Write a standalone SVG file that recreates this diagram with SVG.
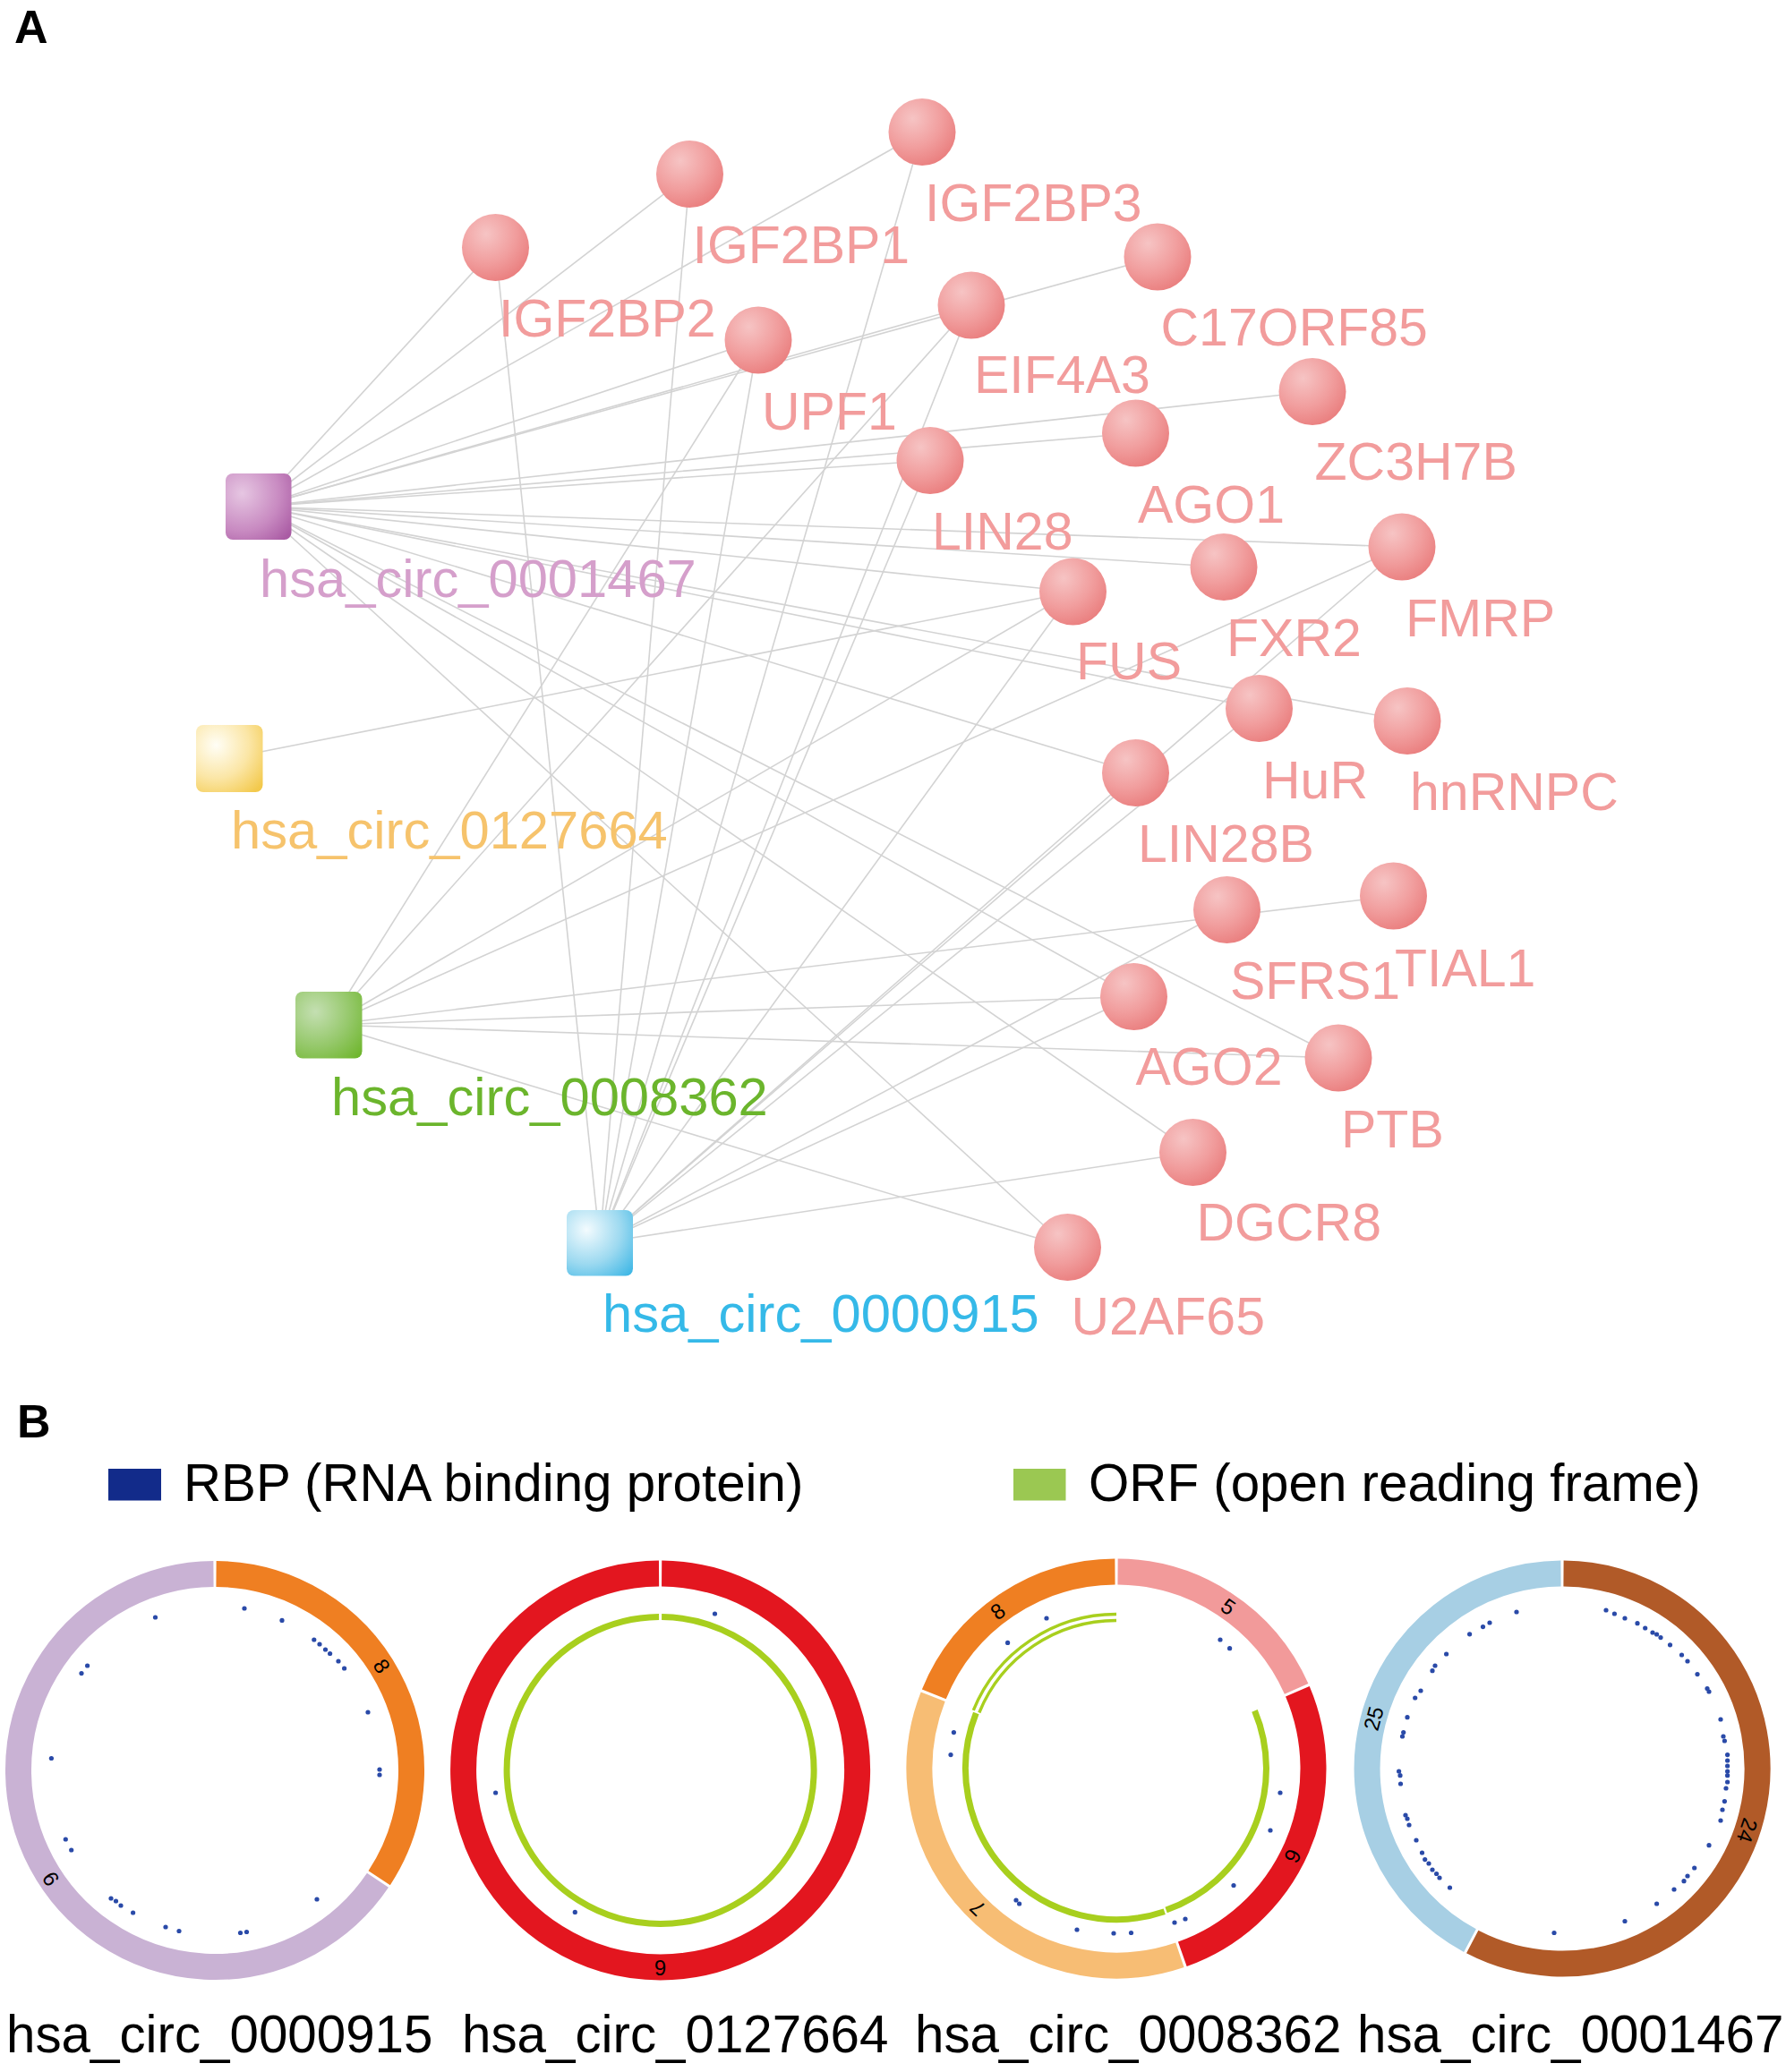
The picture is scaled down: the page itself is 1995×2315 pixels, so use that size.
<svg xmlns="http://www.w3.org/2000/svg" width="1995" height="2315" viewBox="0 0 1995 2315">
<defs>
<radialGradient id="gPink" cx="0.36" cy="0.3" r="0.78">
<stop offset="0" stop-color="#f6c4c4"/><stop offset="0.55" stop-color="#f19e9e"/><stop offset="1" stop-color="#e97b7b"/>
</radialGradient>
<radialGradient id="gPur" cx="0.25" cy="0.3" r="0.95">
<stop offset="0" stop-color="#e6c6e2"/><stop offset="0.6" stop-color="#c88ac1"/><stop offset="1" stop-color="#a95aa3"/>
</radialGradient>
<radialGradient id="gYel" cx="0.3" cy="0.3" r="0.9">
<stop offset="0" stop-color="#fffef6"/><stop offset="0.55" stop-color="#fbe6a6"/><stop offset="1" stop-color="#f3c94c"/>
</radialGradient>
<radialGradient id="gGrn" cx="0.3" cy="0.3" r="0.95">
<stop offset="0" stop-color="#c4dfb2"/><stop offset="0.55" stop-color="#95c86a"/><stop offset="1" stop-color="#6db52a"/>
</radialGradient>
<radialGradient id="gBlu" cx="0.3" cy="0.3" r="0.95">
<stop offset="0" stop-color="#f3fbfe"/><stop offset="0.55" stop-color="#9cd9f0"/><stop offset="1" stop-color="#3cb6e5"/>
</radialGradient>
</defs>
<style>
.edge{stroke:#d3d3d3;stroke-width:1.6;fill:none}
.rbp{fill:url(#gPink)}
.t{font-family:"Liberation Sans",Arial,Helvetica,sans-serif}
.nl{font-size:59px}
.cn{font-size:59.7px}
.pk{fill:#f29c9c}
.hd{font-size:52px;font-weight:bold;fill:#000}
.lg{font-size:58.3px;fill:#000}
.cl{font-size:58.3px;fill:#000}
.seg{fill:none;stroke-width:29}
.num{font-size:24px;fill:#000;text-anchor:middle;dominant-baseline:central}
.dot{fill:#2a4aa8}
.orf{fill:none;stroke:#a8cf1e}
</style>
<rect width="1995" height="2315" fill="#fff"/>

<text class="t hd" x="16" y="48">A</text>

<g id="edges">
<line class="edge" x1="288.5" y1="566" x2="553.5" y2="276.5"/>
<line class="edge" x1="288.5" y1="566" x2="770.5" y2="194.5"/>
<line class="edge" x1="288.5" y1="566" x2="1030" y2="147.5"/>
<line class="edge" x1="288.5" y1="566" x2="847" y2="380"/>
<line class="edge" x1="288.5" y1="566" x2="1085" y2="341"/>
<line class="edge" x1="288.5" y1="566" x2="1293" y2="287"/>
<line class="edge" x1="288.5" y1="566" x2="1466" y2="437.5"/>
<line class="edge" x1="288.5" y1="566" x2="1268.5" y2="484"/>
<line class="edge" x1="288.5" y1="566" x2="1039" y2="514.5"/>
<line class="edge" x1="288.5" y1="566" x2="1566" y2="611"/>
<line class="edge" x1="288.5" y1="566" x2="1367" y2="633.5"/>
<line class="edge" x1="288.5" y1="566" x2="1198.5" y2="661"/>
<line class="edge" x1="288.5" y1="566" x2="1406.5" y2="791.5"/>
<line class="edge" x1="288.5" y1="566" x2="1572" y2="805.5"/>
<line class="edge" x1="288.5" y1="566" x2="1268.5" y2="863.5"/>
<line class="edge" x1="288.5" y1="566" x2="1495" y2="1182"/>
<line class="edge" x1="288.5" y1="566" x2="1266.5" y2="1113.5"/>
<line class="edge" x1="288.5" y1="566" x2="1332.5" y2="1287.5"/>
<line class="edge" x1="288.5" y1="566" x2="1192.5" y2="1393.5"/>
<line class="edge" x1="256" y1="847" x2="1198.5" y2="661"/>
<line class="edge" x1="367" y1="1145" x2="847" y2="380"/>
<line class="edge" x1="367" y1="1145" x2="1085" y2="341"/>
<line class="edge" x1="367" y1="1145" x2="1198.5" y2="661"/>
<line class="edge" x1="367" y1="1145" x2="1566" y2="611"/>
<line class="edge" x1="367" y1="1145" x2="1556.5" y2="1001"/>
<line class="edge" x1="367" y1="1145" x2="1266.5" y2="1113.5"/>
<line class="edge" x1="367" y1="1145" x2="1495" y2="1182"/>
<line class="edge" x1="367" y1="1145" x2="1192.5" y2="1393.5"/>
<line class="edge" x1="670" y1="1388.5" x2="553.5" y2="276.5"/>
<line class="edge" x1="670" y1="1388.5" x2="770.5" y2="194.5"/>
<line class="edge" x1="670" y1="1388.5" x2="1030" y2="147.5"/>
<line class="edge" x1="670" y1="1388.5" x2="847" y2="380"/>
<line class="edge" x1="670" y1="1388.5" x2="1085" y2="341"/>
<line class="edge" x1="670" y1="1388.5" x2="1039" y2="514.5"/>
<line class="edge" x1="670" y1="1388.5" x2="1198.5" y2="661"/>
<line class="edge" x1="670" y1="1388.5" x2="1268.5" y2="863.5"/>
<line class="edge" x1="670" y1="1388.5" x2="1566" y2="611"/>
<line class="edge" x1="670" y1="1388.5" x2="1406.5" y2="791.5"/>
<line class="edge" x1="670" y1="1388.5" x2="1370.5" y2="1016.5"/>
<line class="edge" x1="670" y1="1388.5" x2="1266.5" y2="1113.5"/>
<line class="edge" x1="670" y1="1388.5" x2="1332.5" y2="1287.5"/>
</g>

<g id="n_IGF2BP3"><circle class="rbp" cx="1030" cy="147.5" r="37.5"/><text class="t nl pk" x="1033" y="247">IGF2BP3</text></g>
<g id="n_IGF2BP1"><circle class="rbp" cx="770.5" cy="194.5" r="37.5"/><text class="t nl pk" x="773.5" y="294">IGF2BP1</text></g>
<g id="n_IGF2BP2"><circle class="rbp" cx="553.5" cy="276.5" r="37.5"/><text class="t nl pk" x="557" y="375.5">IGF2BP2</text></g>
<g id="n_C17ORF85"><circle class="rbp" cx="1293" cy="287" r="37.5"/><text class="t nl pk" x="1296.5" y="386">C17ORF85</text></g>
<g id="n_EIF4A3"><circle class="rbp" cx="1085" cy="341" r="37.5"/><text class="t nl pk" x="1088" y="439">EIF4A3</text></g>
<g id="n_UPF1"><circle class="rbp" cx="847" cy="380" r="37.5"/><text class="t nl pk" x="851" y="480">UPF1</text></g>
<g id="n_ZC3H7B"><circle class="rbp" cx="1466" cy="437.5" r="37.5"/><text class="t nl pk" x="1468.5" y="536">ZC3H7B</text></g>
<g id="n_AGO1"><circle class="rbp" cx="1268.5" cy="484" r="37.5"/><text class="t nl pk" x="1271" y="584">AGO1</text></g>
<g id="n_LIN28"><circle class="rbp" cx="1039" cy="514.5" r="37.5"/><text class="t nl pk" x="1041" y="614">LIN28</text></g>
<g id="n_FMRP"><circle class="rbp" cx="1566" cy="611" r="37.5"/><text class="t nl pk" x="1570" y="711">FMRP</text></g>
<g id="n_FXR2"><circle class="rbp" cx="1367" cy="633.5" r="37.5"/><text class="t nl pk" x="1370" y="732.5">FXR2</text></g>
<g id="n_FUS"><circle class="rbp" cx="1198.5" cy="661" r="37.5"/><text class="t nl pk" x="1202" y="759">FUS</text></g>
<g id="n_HuR"><circle class="rbp" cx="1406.5" cy="791.5" r="37.5"/><text class="t nl pk" x="1410" y="892">HuR</text></g>
<g id="n_hnRNPC"><circle class="rbp" cx="1572" cy="805.5" r="37.5"/><text class="t nl pk" x="1575" y="905">hnRNPC</text></g>
<g id="n_LIN28B"><circle class="rbp" cx="1268.5" cy="863.5" r="37.5"/><text class="t nl pk" x="1271" y="963">LIN28B</text></g>
<g id="n_SFRS1"><circle class="rbp" cx="1370.5" cy="1016.5" r="37.5"/><text class="t nl pk" x="1374" y="1116">SFRS1</text></g>
<g id="n_TIAL1"><circle class="rbp" cx="1556.5" cy="1001" r="37.5"/><text class="t nl pk" x="1558" y="1101.5">TIAL1</text></g>
<g id="n_AGO2"><circle class="rbp" cx="1266.5" cy="1113.5" r="37.5"/><text class="t nl pk" x="1268.5" y="1212">AGO2</text></g>
<g id="n_PTB"><circle class="rbp" cx="1495" cy="1182" r="37.5"/><text class="t nl pk" x="1498" y="1282">PTB</text></g>
<g id="n_DGCR8"><circle class="rbp" cx="1332.5" cy="1287.5" r="37.5"/><text class="t nl pk" x="1336.5" y="1386">DGCR8</text></g>
<g id="n_U2AF65"><circle class="rbp" cx="1192.5" cy="1393.5" r="37.5"/><text class="t nl pk" x="1196.5" y="1491">U2AF65</text></g>

<g id="n_hsa_circ_0001467"><rect x="252" y="529" width="73.5" height="74" rx="8" fill="url(#gPur)"/><text class="t cn" x="290" y="666.5" fill="#d59fcb">hsa_circ_0001467</text></g>
<g id="n_hsa_circ_0127664"><rect x="219" y="810" width="74.5" height="75" rx="8" fill="url(#gYel)"/><text class="t cn" x="258" y="947.5" fill="#f6c36c">hsa_circ_0127664</text></g>
<g id="n_hsa_circ_0008362"><rect x="330" y="1108" width="74.5" height="74.5" rx="8" fill="url(#gGrn)"/><text class="t cn" x="370" y="1246" fill="#6bb52c">hsa_circ_0008362</text></g>
<g id="n_hsa_circ_0000915"><rect x="633" y="1352" width="74" height="73.5" rx="8" fill="url(#gBlu)"/><text class="t cn" x="673" y="1488" fill="#35b9e8">hsa_circ_0000915</text></g>

<text class="t hd" x="19" y="1606">B</text>
<g id="legend">
<rect x="121" y="1641" width="59" height="35.5" fill="#122b8a"/>
<text class="t lg" x="205" y="1677">RBP (RNA binding protein)</text>
<rect x="1132" y="1641" width="58.5" height="35.5" fill="#9bc852"/>
<text class="t lg" x="1216" y="1677">ORF (open reading frame)</text>
</g>

<g id="circ_0000915">
<path class="seg" stroke="#ef7f22" d="M241.53,1758.51 A219.5,219.5 0 0 1 423.68,2098.2"/>
<path class="seg" stroke="#c9b2d4" d="M421.97,2100.74 A219.5,219.5 0 1 1 238.47,1758.51"/>
<text class="t num" x="426.6" y="1861.4" transform="rotate(58 426.6 1861.4)">8</text>
<text class="t num" x="56.5" y="2099.4" transform="rotate(236.5 56.5 2099.4)">9</text>
<g class="dot">
<circle cx="273" cy="1797" r="2.6"/><circle cx="173.5" cy="1807" r="2.6"/><circle cx="315" cy="1810.4" r="2.6"/><circle cx="350.8" cy="1832" r="2.6"/><circle cx="357" cy="1837" r="2.6"/><circle cx="363.5" cy="1843" r="2.6"/><circle cx="368.6" cy="1847.5" r="2.6"/><circle cx="378" cy="1856" r="2.6"/><circle cx="384.6" cy="1864" r="2.6"/><circle cx="97.6" cy="1861" r="2.6"/><circle cx="91" cy="1869.6" r="2.6"/><circle cx="411" cy="1913" r="2.6"/><circle cx="57.4" cy="1964.5" r="2.6"/><circle cx="424" cy="1977" r="2.6"/><circle cx="424" cy="1983" r="2.6"/><circle cx="73.3" cy="2055" r="2.6"/><circle cx="79.7" cy="2067" r="2.6"/><circle cx="354" cy="2122" r="2.6"/><circle cx="124" cy="2121" r="2.6"/><circle cx="129.5" cy="2124" r="2.6"/><circle cx="135" cy="2129" r="2.6"/><circle cx="148.6" cy="2137" r="2.6"/><circle cx="185" cy="2153" r="2.6"/><circle cx="200" cy="2157.5" r="2.6"/><circle cx="268.5" cy="2159.5" r="2.6"/><circle cx="275.5" cy="2158.5" r="2.6"/>
</g>
<text class="t cl" x="7" y="2293">hsa_circ_0000915</text>
</g>

<g id="circ_0127664">
<path class="seg" stroke="#e3161f" d="M739.14,1758 A220,220 0 1 1 736.06,1758"/>
<path class="orf" stroke-width="7" d="M739.1,1806.5 A171.5,171.5 0 1 1 736.1,1806.5"/>
<text class="t num" x="737.6" y="2198" transform="rotate(180 737.6 2198)">6</text>
<g class="dot">
<circle cx="798.5" cy="1803" r="2.6"/><circle cx="553.6" cy="2003" r="2.6"/><circle cx="642.3" cy="2136.4" r="2.6"/>
</g>
<text class="t cl" x="516" y="2293">hsa_circ_0127664</text>
</g>

<g id="circ_0008362">
<path class="seg" stroke="#f29a9a" d="M1248.54,1756 A220,220 0 0 1 1448.15,1886.88"/>
<path class="seg" stroke="#e3161f" d="M1449.36,1889.69 A220,220 0 0 1 1320.81,2183.26"/>
<path class="seg" stroke="#f7bd74" d="M1317.91,2184.25 A220,220 0 0 1 1042.16,1895.72"/>
<path class="seg" stroke="#ef7f22" d="M1043.3,1892.88 A220,220 0 0 1 1245.46,1756"/>
<path class="orf" stroke-width="7" d="M1401.5,1911.4 A167.5,167.5 0 0 1 1302.6,2134"/>
<path class="orf" stroke-width="7" d="M1300.75,2135.7 A168.5,168.5 0 0 1 1090.3,1914"/>
<path class="orf" stroke-width="3.4" d="M1093.8,1913.5 A165.5,165.5 0 0 1 1247,1810.5"/>
<path class="orf" stroke-width="3.4" d="M1087.3,1910.8 A172.5,172.5 0 0 1 1247,1803.5"/>
<text class="t num" x="1372.2" y="1795.1" transform="rotate(34.7 1372.2 1795.1)">5</text>
<text class="t num" x="1444.1" y="2073.8" transform="rotate(116.4 1444.1 2073.8)">6</text>
<text class="t num" x="1092" y="2132.1" transform="rotate(224.8 1092 2132.1)">7</text>
<text class="t num" x="1114.6" y="1800.3" transform="rotate(323 1114.6 1800.3)">8</text>
<g class="dot">
<circle cx="1169" cy="1808" r="2.6"/><circle cx="1125.6" cy="1835.4" r="2.6"/><circle cx="1363" cy="1832" r="2.6"/><circle cx="1373.6" cy="1841.7" r="2.6"/><circle cx="1065.4" cy="1935.6" r="2.6"/><circle cx="1062" cy="1960.6" r="2.6"/><circle cx="1430" cy="2003" r="2.6"/><circle cx="1419" cy="2045" r="2.6"/><circle cx="1378" cy="2106.5" r="2.6"/><circle cx="1135" cy="2123" r="2.6"/><circle cx="1138.6" cy="2127" r="2.6"/><circle cx="1324" cy="2144" r="2.6"/><circle cx="1312" cy="2148" r="2.6"/><circle cx="1203" cy="2156" r="2.6"/><circle cx="1244" cy="2160" r="2.6"/><circle cx="1263.5" cy="2159.5" r="2.6"/>
</g>
<text class="t cl" x="1022" y="2293">hsa_circ_0008362</text>
</g>

<g id="circ_0001467">
<path class="seg" stroke="#b15a28" stroke-width="30" d="M1746.52,1758 A218,218 0 1 1 1644.7,2169.5"/>
<path class="seg" stroke="#a7cfe4" stroke-width="30" d="M1642,2168.1 A218,218 0 0 1 1743.48,1758"/>
<text class="t num" x="1951.7" y="2045.2" transform="rotate(108.5 1951.7 2045.2)">24</text>
<text class="t num" x="1534.3" y="1920" transform="rotate(284.9 1534.3 1920)">25</text>
<g class="dot">
<circle cx="1694" cy="1801" r="2.6"/><circle cx="1664" cy="1813" r="2.6"/><circle cx="1656.5" cy="1817.6" r="2.6"/><circle cx="1641.6" cy="1825.8" r="2.6"/><circle cx="1615.6" cy="1848" r="2.6"/><circle cx="1603" cy="1861" r="2.6"/><circle cx="1600" cy="1866.7" r="2.6"/><circle cx="1587" cy="1889" r="2.6"/><circle cx="1580.7" cy="1897" r="2.6"/><circle cx="1572" cy="1918.7" r="2.6"/><circle cx="1567.7" cy="1935.6" r="2.6"/><circle cx="1566.5" cy="1940" r="2.6"/><circle cx="1562.6" cy="1979" r="2.6"/><circle cx="1564" cy="1983.7" r="2.6"/><circle cx="1564.5" cy="1993" r="2.6"/><circle cx="1570" cy="2028" r="2.6"/><circle cx="1572" cy="2032" r="2.6"/><circle cx="1574" cy="2039" r="2.6"/><circle cx="1582" cy="2056" r="2.6"/><circle cx="1588.5" cy="2070" r="2.6"/><circle cx="1591.7" cy="2077.6" r="2.6"/><circle cx="1596" cy="2082" r="2.6"/><circle cx="1600" cy="2089" r="2.6"/><circle cx="1604.6" cy="2093.5" r="2.6"/><circle cx="1608" cy="2098" r="2.6"/><circle cx="1619.5" cy="2109" r="2.6"/><circle cx="1736" cy="2159.5" r="2.6"/><circle cx="1815" cy="2146.5" r="2.6"/><circle cx="1850.6" cy="2127" r="2.6"/><circle cx="1870" cy="2111" r="2.6"/><circle cx="1881" cy="2101.7" r="2.6"/><circle cx="1885" cy="2096" r="2.6"/><circle cx="1892.7" cy="2087" r="2.6"/><circle cx="1909" cy="2061.7" r="2.6"/><circle cx="1922" cy="2034" r="2.6"/><circle cx="1924" cy="2022" r="2.6"/><circle cx="1926.4" cy="2012.6" r="2.6"/><circle cx="1928" cy="1998" r="2.6"/><circle cx="1929.6" cy="1991" r="2.6"/><circle cx="1929.6" cy="1983.7" r="2.6"/><circle cx="1929.6" cy="1979" r="2.6"/><circle cx="1929.6" cy="1973" r="2.6"/><circle cx="1929.6" cy="1967" r="2.6"/><circle cx="1929.6" cy="1960.6" r="2.6"/><circle cx="1926.4" cy="1945" r="2.6"/><circle cx="1925" cy="1940" r="2.6"/><circle cx="1922" cy="1921" r="2.6"/><circle cx="1909" cy="1890" r="2.6"/><circle cx="1907" cy="1886.5" r="2.6"/><circle cx="1896" cy="1870.6" r="2.6"/><circle cx="1885" cy="1856" r="2.6"/><circle cx="1878.5" cy="1849" r="2.6"/><circle cx="1865.5" cy="1837.8" r="2.6"/><circle cx="1855" cy="1829.6" r="2.6"/><circle cx="1850.6" cy="1826" r="2.6"/><circle cx="1846" cy="1824" r="2.6"/><circle cx="1837.7" cy="1819" r="2.6"/><circle cx="1829" cy="1813.7" r="2.6"/><circle cx="1815" cy="1808" r="2.6"/><circle cx="1803.4" cy="1803" r="2.6"/><circle cx="1794" cy="1799" r="2.6"/>
</g>
<text class="t cl" x="1516" y="2293">hsa_circ_0001467</text>
</g>
</svg>
